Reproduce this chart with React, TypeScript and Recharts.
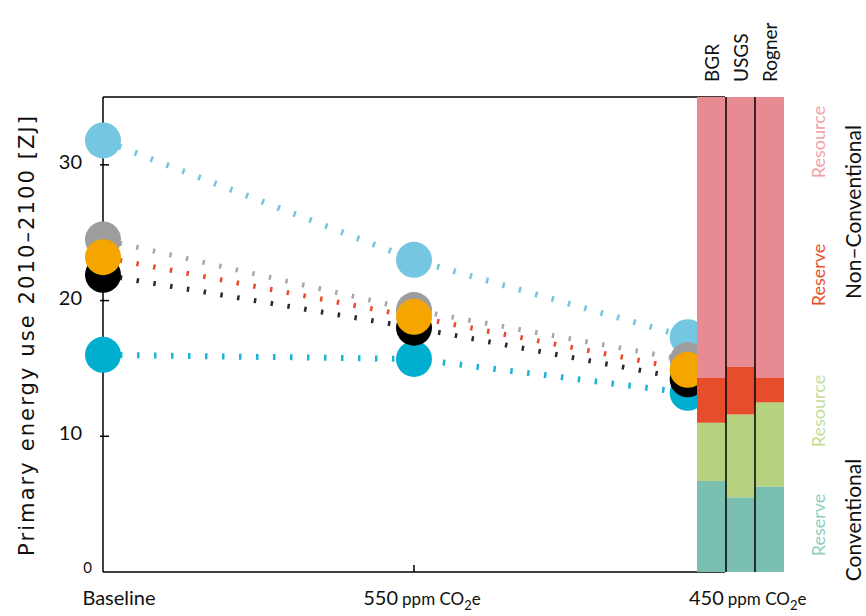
import React from 'react';
import { LineChart, Line, XAxis, YAxis, BarChart, Bar, ReferenceLine } from 'recharts';

// scenarios along the x axis, and where each column of points sits
const scenarios = ['Baseline', '550', '450'];
const scenarioPos = [0, 1, 1.88];

// primary energy use 2010-2100 [ZJ], one array per model
const lightBlue = [31.8, 23.0, 17.3];
const cyan = [16.0, 15.7, 13.2];
const gray = [24.5, 19.3, 15.6];
const black = [21.9, 18.0, 14.2];
const orange = [23.2, 18.8, 14.9];

// reserve / resource estimates [ZJ]
const sources = ['BGR', 'USGS', 'Rogner'];
const convReserve = [6.7, 5.5, 6.3];
const convResource = [4.3, 6.1, 6.2];
const nonConvReserve = [3.3, 3.5, 1.8];
const nonConvResource = [20.7, 19.9, 20.7];

const yTicks = [0, 10, 20, 30];

const FONT = 'Lato, "Open Sans", sans-serif';

const SERIES = [
  { key: 'lightBlue', dot: '#74c6e1', dash: '#74c6e1', w: 6 },
  { key: 'cyan', dot: '#00aed0', dash: '#1bb3d6', w: 6 },
  { key: 'gray', dot: '#9d9d9d', dash: '#a8a8a8', w: 5 },
  { key: 'black', dot: '#000000', dash: '#2a2a2a', w: 5 },
  { key: 'orange', dot: '#f5a500', dash: '#e84a2b', w: 5 },
];

const lineData = scenarios.map((name, i) => ({
  name,
  x: scenarioPos[i],
  lightBlue: lightBlue[i],
  cyan: cyan[i],
  gray: gray[i],
  black: black[i],
  orange: orange[i],
}));

const barData = sources.map((name, i) => ({
  name,
  convReserve: convReserve[i],
  convResource: convResource[i],
  nonConvReserve: nonConvReserve[i],
  nonConvResource: nonConvResource[i],
}));

const xLabelShift = [16, 8, 60];

const XTick = (props: any) => {
  const { x, y, payload } = props;
  const i = scenarioPos.indexOf(payload.value);
  const name = scenarios[i];
  return (
    <g>
      {i === 1 && <line x1={x} x2={x} y1={y} y2={y - 7} stroke="#000" strokeWidth={1.5} />}
      <text x={x + xLabelShift[i]} y={y + 33} textAnchor="middle" fill="#111" fontFamily={FONT}>
        {name === 'Baseline' ? (
          <tspan fontSize={20}>Baseline</tspan>
        ) : (
          <>
            <tspan fontSize={20}>{name}</tspan>
            <tspan fontSize={17} dx={4}>ppm CO</tspan>
            <tspan fontSize={13} dy={5}>2</tspan>
            <tspan fontSize={17} dy={-5}>e</tspan>
          </>
        )}
      </text>
    </g>
  );
};

const YTick = (props: any) => {
  const { x, y, payload } = props;
  if (payload.value === 0) {
    return (
      <text x={x - 11} y={y - 5} textAnchor="end" dominantBaseline="central" fontSize={15} fill="#111" fontFamily={FONT}>
        0
      </text>
    );
  }
  return (
    <g>
      <line x1={x - 3} x2={x + 6} y1={y} y2={y} stroke="#000" strokeWidth={1.5} />
      <text x={x - 21} y={y - 4} textAnchor="end" dominantBaseline="central" fontSize={20} fill="#111" fontFamily={FONT}>
        {payload.value}
      </text>
    </g>
  );
};

const BarTick = (props: any) => {
  const { x, y, payload } = props;
  const ty = y - 15;
  return (
    <text
      x={x}
      y={ty}
      transform={`rotate(-90 ${x} ${ty})`}
      textAnchor="start"
      dominantBaseline="central"
      fontSize={19}
      fill="#111"
      fontFamily={FONT}
    >
      {payload.value}
    </text>
  );
};

const sideLabels = [
  { text: 'Resource', x: 818, y: 142, color: '#f1a3aa', size: 18 },
  { text: 'Reserve', x: 818, y: 275, color: '#e8512e', size: 18 },
  { text: 'Non\u2013Conventional', x: 852, y: 212, color: '#111', size: 21 },
  { text: 'Resource', x: 818, y: 411, color: '#c6dd97', size: 18 },
  { text: 'Reserve', x: 818, y: 525, color: '#8dcfc1', size: 18 },
  { text: 'Conventional', x: 852, y: 520, color: '#111', size: 21 },
];

export default function App() {
  return (
    <div style={{ position: 'absolute', left: 0, top: 0, width: 866, height: 616, background: '#fff', fontFamily: FONT }}>
      <div style={{ position: 'absolute', left: 0, top: 0 }}>
        <LineChart width={866} height={616} data={lineData} margin={{ top: 97, right: 141, bottom: 0, left: 43 }}>
          <XAxis
            dataKey="x"
            type="number"
            domain={[0, 2]}
            ticks={scenarioPos}
            interval={0}
            height={44}
            tickSize={0}
            tickMargin={0}
            tickLine={false}
            tick={<XTick />}
            axisLine={{ stroke: '#000', strokeWidth: 1.5 }}
          />
          <YAxis
            domain={[0, 35]}
            ticks={yTicks}
            width={60}
            tickSize={0}
            tickMargin={0}
            tickLine={false}
            tick={<YTick />}
            axisLine={{ stroke: '#000', strokeWidth: 1.5 }}
          />
          <ReferenceLine y={35} stroke="#000" strokeWidth={1.5} />
          <ReferenceLine x={2} stroke="#000" strokeWidth={1.5} />
          {SERIES.map((s) => (
            <Line
              key={`dash-${s.key}`}
              dataKey={s.key}
              type="linear"
              stroke={s.dash}
              strokeWidth={s.w}
              strokeDasharray="2.5 14.5"
              dot={false}
              activeDot={false}
              isAnimationActive={false}
            />
          ))}
          {SERIES.map((s) => (
            <Line
              key={`dot-${s.key}`}
              dataKey={s.key}
              type="linear"
              stroke="none"
              dot={{ r: 18, fill: s.dot, stroke: 'none' }}
              activeDot={false}
              isAnimationActive={false}
            />
          ))}
        </LineChart>
      </div>
      <div style={{ position: 'absolute', left: 0, top: 0 }}>
        <BarChart width={866} height={616} data={barData} margin={{ top: 0, right: 82, bottom: 44, left: 697 }} barCategoryGap={0}>
          <XAxis
            dataKey="name"
            orientation="top"
            height={97}
            interval={0}
            tickSize={0}
            tickMargin={0}
            tickLine={false}
            axisLine={false}
            tick={<BarTick />}
          />
          <YAxis hide domain={[0, 35]} />
          <Bar dataKey="convReserve" stackId="s" fill="#7bbfb1" isAnimationActive={false} />
          <Bar dataKey="convResource" stackId="s" fill="#b6d27f" isAnimationActive={false} />
          <Bar dataKey="nonConvReserve" stackId="s" fill="#e64d2b" isAnimationActive={false} />
          <Bar dataKey="nonConvResource" stackId="s" fill="#e88a92" isAnimationActive={false} />
          <ReferenceLine x="USGS" position="start" stroke="#000" strokeWidth={1.5} />
          <ReferenceLine x="Rogner" position="start" stroke="#000" strokeWidth={1.5} />
        </BarChart>
      </div>
      <svg width={866} height={616} style={{ position: 'absolute', left: 0, top: 0 }}>
        <text
          x={27}
          y={336}
          transform="rotate(-90 27 336)"
          textAnchor="middle"
          dominantBaseline="central"
          fontSize={21}
          textLength={440}
          lengthAdjust="spacing"
          fill="#111"
          fontFamily="DejaVu Sans"
        >
          Primary energy use 2010–2100 [ZJ]
        </text>
        {sideLabels.map((l, i) => (
          <text
            key={i}
            x={l.x}
            y={l.y}
            transform={`rotate(-90 ${l.x} ${l.y})`}
            textAnchor="middle"
            dominantBaseline="central"
            fontSize={l.size}
            fill={l.color}
            fontFamily={FONT}
          >
            {l.text}
          </text>
        ))}
      </svg>
    </div>
  );
}
